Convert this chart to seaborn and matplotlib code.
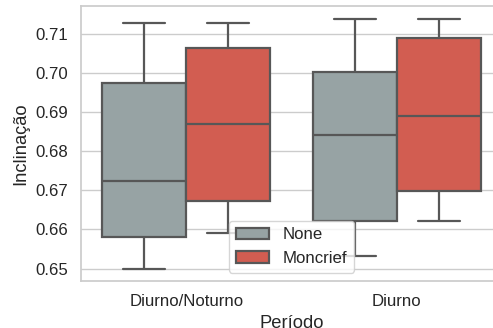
import matplotlib
matplotlib.use("Agg")
import matplotlib.pyplot as plt
import seaborn as sns
import pandas as pd

# Five-number summaries per group: min, Q1, median, Q3, max
periodos = ["Diurno/Noturno", "Diurno"]
tratamentos = ["None", "Moncrief"]
diurno_noturno_none = [0.6500, 0.6580, 0.6723, 0.6975, 0.7129]
diurno_noturno_moncrief = [0.6590, 0.6672, 0.6869, 0.7064, 0.7129]
diurno_none = [0.6531, 0.6622, 0.6841, 0.7003, 0.7140]
diurno_moncrief = [0.6621, 0.6699, 0.6890, 0.7091, 0.7140]

rows = []
for periodo, trat, vals in [
    (periodos[0], tratamentos[0], diurno_noturno_none),
    (periodos[0], tratamentos[1], diurno_noturno_moncrief),
    (periodos[1], tratamentos[0], diurno_none),
    (periodos[1], tratamentos[1], diurno_moncrief),
]:
    for v in vals:
        rows.append({"Período": periodo, "Tratamento": trat, "Inclinação": v})
df = pd.DataFrame(rows)

sns.set_theme(style="whitegrid", context="notebook", font_scale=1.1)
plt.rcParams["font.family"] = ["Liberation Sans", "DejaVu Sans"]

fig = plt.figure(figsize=(4.93, 3.28), dpi=100)
ax = fig.add_axes([81 / 493, 1 - 281 / 328, (502 - 81) / 493, (281 - 6) / 328])

sns.boxplot(
    data=df, x="Período", y="Inclinação", hue="Tratamento",
    order=periodos, hue_order=tratamentos,
    palette=["#95a5a6", "#e74c3c"], linewidth=1.6, ax=ax,
)
ax.legend(loc="lower center", title=None)

fig.savefig("out.png", dpi=100)
